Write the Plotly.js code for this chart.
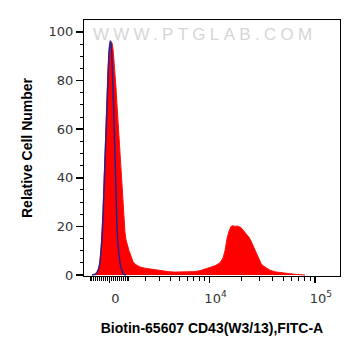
<!DOCTYPE html>
<html>
<head>
<meta charset="utf-8">
<script src="https://cdn.plot.ly/plotly-3.0.1.min.js"></script>
<style>html,body{margin:0;padding:0;background:#fff;}</style>
</head>
<body>
<div id="chart" style="width:361px;height:356px;"></div>
<script>
// Histogram bins in display channels (biexponential display scale)
const redChannels = [11,12,14,15.5,17,18,19,20,21,22,23,24,25,26,27,28,29,30,31,32,33,34,35,36,37,38,39,40,41,42,43,44,45,46,47,49,52,56,61,66,71,76,81,86,91,96,101,106,111,116,121,126,131,136,139,141,143,145,147,149,151,153,155,157,159,161,163,165,167,169,171,173,175,177,179,182,186,191,196,201,206,211,216,221];
const redCounts   = [0,0.3,1.5,4,10,16,26,38,52,65,76,85,91,94,95.5,95.6,93,88,84,77,70,63,55,49,42,35,28,22,17.5,14.5,12.5,11,10,9,7.5,5.5,4.2,3.3,2.8,2.5,2,1.7,1.5,1.3,1.2,1.2,1.1,1.2,1.4,1.8,2.4,3,3.8,5,7,10,15,18,20,20.3,20,20.2,19.8,19.5,18.5,17.5,16.5,15.5,14,12,10,8,6,4.8,3.8,3,2,1.3,1,0.7,0.5,0.3,0.15,0];
const blueChannels = [8,11,13,14.5,16,17,18,19,20,21,22,23,24,25,26,26.5,27,28,29,30,31,32,33,34,35,36,37,38,39,40,42];
const blueCounts   = [0,0.3,1,2.5,5,9,15,24,36,50,63,75,85,92,95.5,96.4,95,89,77,61,47,32,20,12,7.5,5,3,1.5,0.7,0.3,0];

// Axis ticks (fluorescence values) and labels
const xMajorValues = [0, 1e4, 1e5];
const xMajorLabels = ['0', '10<sup>4</sup>', '10<sup>5</sup>'];
const xMinorValues = [-1000,-900,-800,-700,-600,-500,-400,-300,-200,-100,100,200,300,400,500,600,700,800,900,1000,
  2000,3000,4000,5000,6000,7000,8000,9000,20000,30000,40000,50000,60000,70000,80000,90000];
const yMajorValues = [0, 20, 40, 60, 80, 100];

// biexponential (arcsinh) display transform: value -> display channel
const biex = v => 25.5 + 46.04 * Math.asinh(v / 2307);

const traces = [
  {
    x: redChannels, y: redCounts, type: 'scatter', mode: 'lines',
    fill: 'tozeroy', fillcolor: '#ff0000',
    line: {color: '#ff1010', width: 1}, hoverinfo: 'skip'
  },
  {
    x: blueChannels, y: blueCounts, type: 'scatter', mode: 'lines',
    line: {color: '#2a1f8f', width: 1.5}, hoverinfo: 'skip'
  }
];

const tickFont = {family: 'DejaVu Sans', size: 13, color: '#333'};
const titleFont = {family: 'Liberation Sans', size: 14, color: '#000', weight: 'bold'};

const layout = {
  width: 361, height: 356,
  margin: {l: 84, r: 21, t: 20, b: 80},
  paper_bgcolor: '#fff', plot_bgcolor: '#fff',
  showlegend: false,
  xaxis: {
    range: [0, 256], showgrid: false, zeroline: false,
    showline: true, linecolor: '#000', linewidth: 1, mirror: true,
    tickmode: 'array', tickvals: xMajorValues.map(biex), ticktext: xMajorLabels,
    ticks: 'outside', ticklen: 6, tickwidth: 1.5, tickcolor: '#000',
    tickfont: tickFont, ticklabelshift: 6, ticklabelstandoff: 4,
    minor: {tickmode: 'array', tickvals: xMinorValues.map(biex), ticks: 'outside', ticklen: 3.5, tickwidth: 1, tickcolor: '#000', showgrid: false},
    title: {text: 'Biotin-65607 CD43(W3/13),FITC-A', font: titleFont, standoff: 18},
    automargin: false, fixedrange: true
  },
  yaxis: {
    range: [-0.4, 104.9], showgrid: false, zeroline: false,
    showline: true, linecolor: '#000', linewidth: 1, mirror: true,
    tickmode: 'array', tickvals: yMajorValues,
    ticks: 'outside', ticklen: 7, tickwidth: 1.5, tickcolor: '#000',
    tickfont: tickFont,
    minor: {dtick: 5, ticks: 'outside', ticklen: 3.5, tickwidth: 1, tickcolor: '#000', showgrid: false},
    title: {text: 'Relative Cell Number', font: titleFont, standoff: 12},
    automargin: false, fixedrange: true
  },
  annotations: [{
    text: 'WWW.PTGLAB.COM', xref: 'paper', yref: 'paper',
    x: 0.1445, y: 0.945, xanchor: 'left', yanchor: 'middle', showarrow: false,
    font: {family: 'Liberation Sans', size: 17, color: '#d6d6d6'}
  }]
};

Plotly.newPlot('chart', traces, layout, {staticPlot: true}).then(() => {
  document.querySelectorAll('.annotation-text').forEach(t => t.setAttribute('letter-spacing', '4.3px'));
});
</script>
</body>
</html>
